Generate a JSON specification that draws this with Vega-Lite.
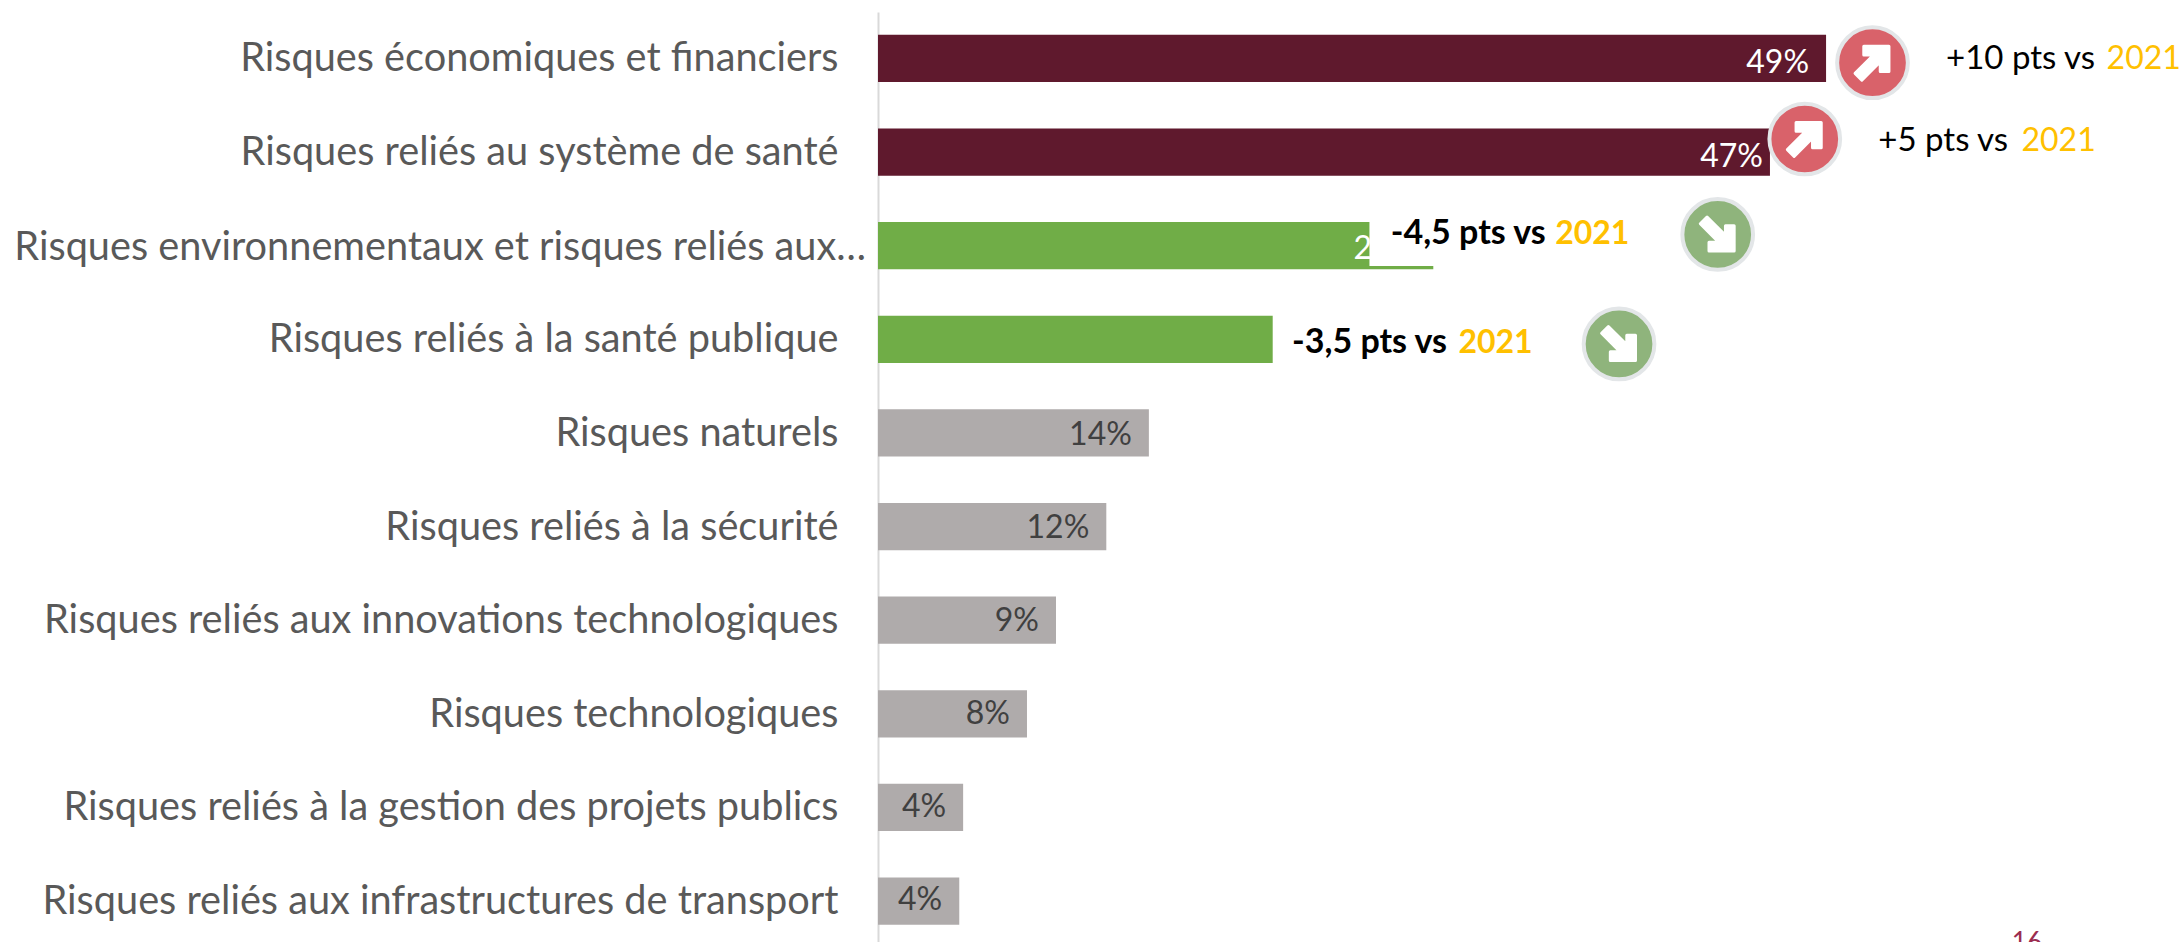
{
"$schema":"https://vega.github.io/schema/vega-lite/v6.json",
"width":1306,"height":930,
"autosize":{"type":"none"},
"padding":{"left":878,"top":12,"right":0,"bottom":0},
"background":"white",
"view":{"stroke":null},
"config":{"font":"Lato"},
"datasets":{
"bars":[
{"risque":"Risques économiques et financiers","part":49,"etiquette":"49%","groupe":"hausse"},
{"risque":"Risques reliés au système de santé","part":46.1,"etiquette":"47%","groupe":"hausse"},
{"risque":"Risques environnementaux et risques reliés aux…","part":28.7,"etiquette":"29%","groupe":"baisse"},
{"risque":"Risques reliés à la santé publique","part":20.4,"etiquette":"","groupe":"baisse"},
{"risque":"Risques naturels","part":14,"etiquette":"14%","groupe":"stable"},
{"risque":"Risques reliés à la sécurité","part":11.8,"etiquette":"12%","groupe":"stable"},
{"risque":"Risques reliés aux innovations technologiques","part":9.2,"etiquette":"9%","groupe":"stable"},
{"risque":"Risques technologiques","part":7.7,"etiquette":"8%","groupe":"stable"},
{"risque":"Risques reliés à la gestion des projets publics","part":4.4,"etiquette":"4%","groupe":"stable"},
{"risque":"Risques reliés aux infrastructures de transport","part":4.2,"etiquette":"4%","groupe":"stable"}
],
"notes":[
{"debut":55.2,"annee":63.5,"rang":0,"texte":"+10 pts vs","poids":"normal"},
{"debut":51.7,"annee":59.1,"rang":0.88,"texte":"+5 pts vs","poids":"normal"},
{"debut":26.5,"annee":35,"rang":1.875,"texte":"-4,5 pts vs","poids":"bold"},
{"debut":21.4,"annee":30,"rang":3.04,"texte":"-3,5 pts vs","poids":"bold"}
],
"icones":[
{"pos":51.4,"rang":0.045,"sens":"hausse"},
{"pos":47.9,"rang":0.86,"sens":"hausse"},
{"pos":43.4,"rang":1.88,"sens":"baisse"},
{"pos":38.3,"rang":3.05,"sens":"baisse"}
]
},
"resolve":{"scale":{"y":"independent"}},
"encoding":{"x":{"type":"quantitative","scale":{"domain":[0,67.5],"nice":false,"zero":false},"axis":null}},
"layer":[
{"data":{"name":"bars"},"mark":{"type":"bar"},
 "encoding":{
  "x":{"field":"part","type":"quantitative"},
  "y":{"field":"risque","type":"nominal","sort":null,"title":null,
   "scale":{"paddingInner":0.495,"paddingOuter":0.214,"align":0.568},
   "axis":{"ticks":false,"domainColor":"#d9d9d9","domainWidth":2,"labelColor":"#595959","labelFontSize":39.7,"labelPadding":40,"labelOffset":1,"labelLimit":900,"labelFont":"Lato","grid":false,
    "labelExpr":"indexof(datum.label,'environnementaux')>=0 ? '' : datum.label"}},
  "fill":{"field":"groupe","type":"nominal","legend":null,"scale":{"domain":["hausse","baisse","stable"],"range":["#5F192D","#70AD47","#AFABAB"]}}
 }},
{"data":{"name":"bars"},"transform":[{"filter":"indexof(datum.risque,'environnementaux')>=0"}],
 "mark":{"type":"text","align":"right","dx":-12,"dy":-3,"fontSize":39.7,"font":"Lato","color":"#595959"},
 "encoding":{
  "x":{"datum":0,"type":"quantitative"},
  "y":{"field":"risque","type":"nominal","sort":null,"axis":null,"scale":{"domain":["Risques économiques et financiers","Risques reliés au système de santé","Risques environnementaux et risques reliés aux…","Risques reliés à la santé publique","Risques naturels","Risques reliés à la sécurité","Risques reliés aux innovations technologiques","Risques technologiques","Risques reliés à la gestion des projets publics","Risques reliés aux infrastructures de transport"],"paddingInner":0.495,"paddingOuter":0.214,"align":0.568}},
  "text":{"field":"risque"}
 }},
{"data":{"name":"bars"},"transform":[{"filter":"datum.etiquette != '47%'"}],
 "mark":{"type":"text","align":"right","dx":-17,"dy":-2,"fontSize":32,"font":"Lato"},
 "encoding":{
  "x":{"field":"part","type":"quantitative"},
  "y":{"field":"risque","type":"nominal","sort":null,"axis":null,"scale":{"domain":["Risques économiques et financiers","Risques reliés au système de santé","Risques environnementaux et risques reliés aux…","Risques reliés à la santé publique","Risques naturels","Risques reliés à la sécurité","Risques reliés aux innovations technologiques","Risques technologiques","Risques reliés à la gestion des projets publics","Risques reliés aux infrastructures de transport"],"paddingInner":0.495,"paddingOuter":0.214,"align":0.568}},
  "text":{"field":"etiquette"},
  "color":{"condition":{"test":"datum.groupe == 'stable'","value":"#404040"},"value":"#ffffff"}
 }},
{"data":{"name":"bars"},"transform":[{"filter":"datum.etiquette == '47%'"}],
 "mark":{"type":"text","align":"right","dx":-7,"dy":-1,"fontSize":32,"font":"Lato","color":"#ffffff"},
 "encoding":{
  "x":{"field":"part","type":"quantitative"},
  "y":{"field":"risque","type":"nominal","sort":null,"axis":null,"scale":{"domain":["Risques économiques et financiers","Risques reliés au système de santé","Risques environnementaux et risques reliés aux…","Risques reliés à la santé publique","Risques naturels","Risques reliés à la sécurité","Risques reliés aux innovations technologiques","Risques technologiques","Risques reliés à la gestion des projets publics","Risques reliés aux infrastructures de transport"],"paddingInner":0.495,"paddingOuter":0.214,"align":0.568}},
  "text":{"field":"etiquette"}
 }},
{"data":{"values":[{"de":25.4,"a":29.05,"haut":1.747,"bas":2.217}]},
 "mark":{"type":"rect","color":"#ffffff"},
 "encoding":{
  "x":{"field":"de","type":"quantitative"},"x2":{"field":"a"},
  "y":{"field":"haut","type":"quantitative","axis":null,"scale":{"domain":[-0.497,9.44],"reverse":true,"nice":false,"zero":false}},"y2":{"field":"bas"}
 }},
{"data":{"name":"notes"},"transform":[{"filter":"datum.poids == 'normal'"}],
 "mark":{"type":"text","align":"left","fontSize":33,"font":"Lato","color":"#000000"},
 "encoding":{
  "x":{"field":"debut","type":"quantitative"},
  "y":{"field":"rang","type":"quantitative","axis":null,"scale":{"domain":[-0.497,9.44],"reverse":true,"nice":false,"zero":false}},
  "text":{"field":"texte"}
 }},
{"data":{"name":"notes"},"transform":[{"filter":"datum.poids == 'bold'"}],
 "mark":{"type":"text","align":"left","fontSize":34,"font":"Lato","fontWeight":"bold","color":"#000000"},
 "encoding":{
  "x":{"field":"debut","type":"quantitative"},
  "y":{"field":"rang","type":"quantitative","axis":null,"scale":{"domain":[-0.497,9.44],"reverse":true,"nice":false,"zero":false}},
  "text":{"field":"texte"}
 }},
{"data":{"name":"notes"},"transform":[{"filter":"datum.poids == 'normal'"}],
 "mark":{"type":"text","align":"left","fontSize":32,"font":"Lato","color":"#FFC000"},
 "encoding":{
  "x":{"field":"annee","type":"quantitative"},
  "y":{"field":"rang","type":"quantitative","axis":null,"scale":{"domain":[-0.497,9.44],"reverse":true,"nice":false,"zero":false}},
  "text":{"value":"2021"}
 }},
{"data":{"name":"notes"},"transform":[{"filter":"datum.poids == 'bold'"}],
 "mark":{"type":"text","align":"left","fontSize":32,"font":"Lato","fontWeight":"bold","color":"#FFC000"},
 "encoding":{
  "x":{"field":"annee","type":"quantitative"},
  "y":{"field":"rang","type":"quantitative","axis":null,"scale":{"domain":[-0.497,9.44],"reverse":true,"nice":false,"zero":false}},
  "text":{"value":"2021"}
 }},
{"data":{"name":"icones"},
 "mark":{"type":"point","filled":true,"shape":"circle","size":5000,"stroke":"#e3e6e8","strokeWidth":4,"opacity":1},
 "encoding":{
  "x":{"field":"pos","type":"quantitative"},
  "y":{"field":"rang","type":"quantitative","axis":null,"scale":{"domain":[-0.497,9.44],"reverse":true,"nice":false,"zero":false}},
  "fill":{"condition":{"test":"datum.sens == 'hausse'","value":"#D9626A"},"value":"#8FB47C"}
 }},
{"data":{"name":"icones"},"transform":[{"filter":"datum.sens == 'hausse'"}],
 "mark":{"type":"point","filled":true,"size":1500,"fill":"#ffffff","stroke":"#ffffff","strokeWidth":3,"strokeJoin":"round","opacity":1,"shape":"M-0.45 -0.85 L0.85 -0.85 L0.85 0.45 L0.4 0.45 L0.4 -0.05 L-0.55 0.9 L-0.9 0.55 L0.05 -0.4 L-0.45 -0.4 Z"},
 "encoding":{
  "x":{"field":"pos","type":"quantitative"},
  "y":{"field":"rang","type":"quantitative","axis":null,"scale":{"domain":[-0.497,9.44],"reverse":true,"nice":false,"zero":false}}
 }},
{"data":{"name":"icones"},"transform":[{"filter":"datum.sens == 'baisse'"}],
 "mark":{"type":"point","filled":true,"size":1500,"fill":"#ffffff","stroke":"#ffffff","strokeWidth":3,"strokeJoin":"round","opacity":1,"shape":"M-0.45 0.85 L0.85 0.85 L0.85 -0.45 L0.4 -0.45 L0.4 0.05 L-0.55 -0.9 L-0.9 -0.55 L0.05 0.4 L-0.45 0.4 Z"},
 "encoding":{
  "x":{"field":"pos","type":"quantitative"},
  "y":{"field":"rang","type":"quantitative","axis":null,"scale":{"domain":[-0.497,9.44],"reverse":true,"nice":false,"zero":false}}
 }},
{"data":{"values":[{"pos":58.6,"rang":9.31,"page":"16"}]},
 "mark":{"type":"text","align":"left","baseline":"top","fontSize":26,"font":"Lato","color":"#9B2D4F"},
 "encoding":{
  "x":{"field":"pos","type":"quantitative"},
  "y":{"field":"rang","type":"quantitative","axis":null,"scale":{"domain":[-0.497,9.44],"reverse":true,"nice":false,"zero":false}},
  "text":{"field":"page"}
 }}
]
}
